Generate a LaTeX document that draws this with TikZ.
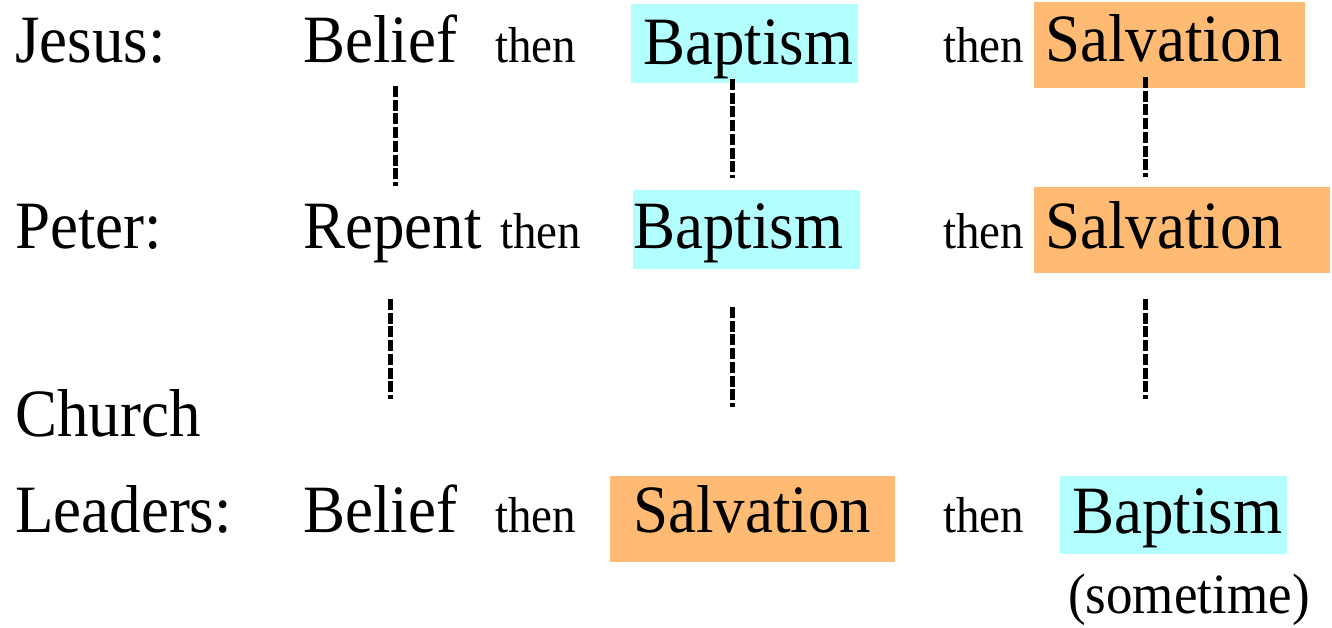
\documentclass[tikz,border=0pt]{standalone}
\usepackage{fontspec}
\setmainfont{Liberation Serif}
\newfontfamily\tallserif[FakeStretch=0.93]{Liberation Serif}
\definecolor{baptcyan}{HTML}{B3FFFF}
\definecolor{salvorange}{HTML}{FFBA73}

\begin{document}
\begin{tikzpicture}[x=1pt, y=-1pt,
	word/.style={anchor=base west, inner sep=0pt, font=\tallserif\fontsize{67.7}{74}\selectfont},
	small/.style={anchor=base west, inner sep=0pt, font=\tallserif\fontsize{50.5}{56}\selectfont},
	note/.style={anchor=base west, inner sep=0pt, font=\tallserif\fontsize{57}{64}\selectfont},
	link/.style={line width=5pt, dash pattern=on 11pt off 2.7pt}]
		\useasboundingbox (0,0) rectangle (1332,627);
		% coloured boxes
		\fill[baptcyan] (631,4) rectangle (858,83);
		\fill[salvorange] (1034,2) rectangle (1305,88);
		\fill[baptcyan] (633,190) rectangle (860,269);
		\fill[salvorange] (1034,187) rectangle (1330,273);
		\fill[salvorange] (610,476) rectangle (895,562);
		\fill[baptcyan] (1060,476) rectangle (1287,554);
		% Jesus
		\node[word] (jesus) at (15,62) {Jesus:};
		\node[word] (jbelief) at (303,62) {Belief};
		\node[small] (jthen1) at (495,62) {then};
		\node[word] (jbapt) at (643,64) {Baptism};
		\node[small] (jthen2) at (943,62) {then};
		\node[word] (jsalv) at (1045,61) {Salvation};
		% Peter
		\node[word] (peter) at (15,248) {Peter:};
		\node[word] (prepent) at (303,248) {Repent};
		\node[small] (pthen1) at (500,248) {then};
		\node[word] (pbapt) at (633,248) {Baptism};
		\node[small] (pthen2) at (943,248) {then};
		\node[word] (psalv) at (1045,248) {Salvation};
		% Church leaders
		\node[word] (church) at (15,436) {Church};
		\node[word] (leaders) at (15,532) {Leaders:};
		\node[word] (lbelief) at (303,532) {Belief};
		\node[small] (lthen1) at (495,532) {then};
		\node[word] (lsalv) at (633,532) {Salvation};
		\node[small] (lthen2) at (943,532) {then};
		\node[word] (lbapt) at (1072,533) {Baptism};
		\node[note] (sometime) at (1068,613) {(sometime)};
		% dashed links
		\coordinate (a1) at (395,86);  \coordinate (b1) at (395,186);
		\coordinate (a2) at (732,79);  \coordinate (b2) at (732,178);
		\coordinate (a3) at (1145,77); \coordinate (b3) at (1145,177);
		\coordinate (c1) at (390,299); \coordinate (d1) at (390,399);
		\coordinate (c2) at (732,307); \coordinate (d2) at (732,407);
		\coordinate (c3) at (1145,299); \coordinate (d3) at (1145,399);
		\draw[link] (a1) -- (b1);
		\draw[link] (a2) -- (b2);
		\draw[link] (a3) -- (b3);
		\draw[link] (c1) -- (d1);
		\draw[link] (c2) -- (d2);
		\draw[link] (c3) -- (d3);
	\end{tikzpicture}
\end{document}
